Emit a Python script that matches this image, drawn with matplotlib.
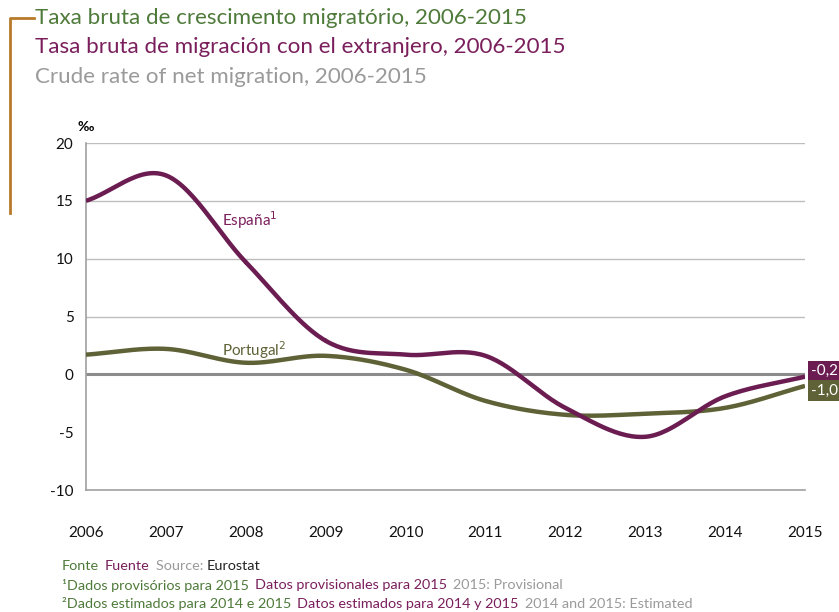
import matplotlib.pyplot as plt
import numpy as np

plt.rcParams['font.family'] = ['Lato', 'DejaVu Sans']
plt.rcParams['axes.unicode_minus'] = False

years = [2006, 2007, 2008, 2009, 2010, 2011, 2012, 2013, 2014, 2015]
espana = [15.0, 17.2, 9.7, 2.9, 1.7, 1.6, -2.9, -5.4, -1.9, -0.2]
portugal = [1.7, 2.2, 1.0, 1.6, 0.4, -2.3, -3.5, -3.4, -2.9, -1.0]
yticks = [-10, -5, 0, 5, 10, 15, 20]

c_es = '#6b1d52'
c_pt = '#5e6236'
c_green = '#4e7a3a'
c_purple = '#7a1f5c'
c_gray = '#9a9a9a'


def smooth(x, y, n=30):
	# Catmull-Rom spline, like Excel's smoothed lines
	x = np.asarray(x, float)
	y = np.asarray(y, float)
	px = np.concatenate([[2 * x[0] - x[1]], x, [2 * x[-1] - x[-2]]])
	py = np.concatenate([[2 * y[0] - y[1]], y, [2 * y[-1] - y[-2]]])
	xs, ys = [], []
	t = np.linspace(0, 1, n)
	for i in range(1, len(px) - 2):
		for p, out in ((px, xs), (py, ys)):
			p0, p1, p2, p3 = p[i - 1], p[i], p[i + 1], p[i + 2]
			out.extend(0.5 * (2 * p1 + (-p0 + p2) * t + (2 * p0 - 5 * p1 + 4 * p2 - p3) * t ** 2
				+ (-p0 + 3 * p1 - 3 * p2 + p3) * t ** 3))
	return xs, ys


fig = plt.figure(figsize=(8.39, 6.12), dpi=100)
ax = fig.add_axes([86 / 839, 1 - 490 / 612, (805 - 86) / 839, (490 - 143) / 612])

for v in [5, 10, 15, 20]:
	ax.axhline(v, color='#bdbdbd', lw=1, zorder=1)
ax.axhline(0, color='#8c8c8c', lw=2.2, zorder=1)

x, y = smooth(years, portugal)
ax.plot(x, y, color=c_pt, lw=3.2, zorder=3, solid_capstyle='butt')
x, y = smooth(years, espana)
ax.plot(x, y, color=c_es, lw=3.2, zorder=4, solid_capstyle='butt')

ax.set_xlim(2006, 2015)
ax.set_ylim(-10, 20)
ax.set_yticks(yticks)
ax.set_xticks(years)
ax.tick_params(length=0, labelsize=11, colors='#111111')
ax.tick_params(axis='x', pad=26)
ax.tick_params(axis='y', pad=9)
for s in ['top', 'right']:
	ax.spines[s].set_visible(False)
for s in ['left', 'bottom']:
	ax.spines[s].set_color('#a0a0a0')
	ax.spines[s].set_linewidth(1.2)

ax.text(2007.7, 12.8, 'España$^{1}$', color=c_purple, fontsize=11, zorder=5)
ax.text(2007.7, 1.6, 'Portugal$^{2}$', color=c_pt, fontsize=11, zorder=5)

# end value labels
ax.text(2015.07, espana[-1] + 0.5, '-0,2', color='white', fontsize=11, va='center',
	bbox=dict(boxstyle='square,pad=0.2', fc=c_es, ec='none'), clip_on=False)
ax.text(2015.07, portugal[-1] - 0.4, '-1,0', color='white', fontsize=11, va='center',
	bbox=dict(boxstyle='square,pad=0.2', fc=c_pt, ec='none'), clip_on=False)

fig.text(78 / 839, 1 - 127 / 612, '‰', fontsize=10, fontweight='bold', va='center')

# titles and bracket
fig.text(35 / 839, 1 - 18 / 612, 'Taxa bruta de crescimento migratório, 2006-2015', color=c_green, fontsize=16.1, va='center')
fig.text(35 / 839, 1 - 47 / 612, 'Tasa bruta de migración con el extranjero, 2006-2015', color=c_purple, fontsize=16.1, va='center')
fig.text(35 / 839, 1 - 77 / 612, 'Crude rate of net migration, 2006-2015', color=c_gray, fontsize=16.1, va='center')
fig.add_artist(plt.Line2D([10 / 839, 10 / 839, 34 / 839], [1 - 213 / 612, 1 - 18 / 612, 1 - 18 / 612],
	color='#b87a2a', lw=2, transform=fig.transFigure))

# footnotes
fs = 10.4
def line(y, parts):
	x = 62 / 839
	for txt, col in parts:
		t = fig.text(x, 1 - y / 612, txt, color=col, fontsize=fs, va='center')
		fig.canvas.draw()
		bb = t.get_window_extent()
		x = bb.x1 / 839 + 6 / 839

line(566, [('Fonte', c_green), ('Fuente', c_purple), ('Source:', c_gray)])
fig.texts[-1].set_text('Source: ')
fig.canvas.draw()
bb = fig.texts[-1].get_window_extent()
fig.text(bb.x1 / 839, 1 - 566 / 612, 'Eurostat', color='#222222', fontsize=fs, va='center')
line(585, [('¹Dados provisórios para 2015', c_green), ('Datos provisionales para 2015', c_purple), ('2015: Provisional', c_gray)])
line(604, [('²Dados estimados para 2014 e 2015', c_green), ('Datos estimados para 2014 y 2015', c_purple), ('2014 and 2015: Estimated', c_gray)])

fig.savefig('out.png', dpi=100)
